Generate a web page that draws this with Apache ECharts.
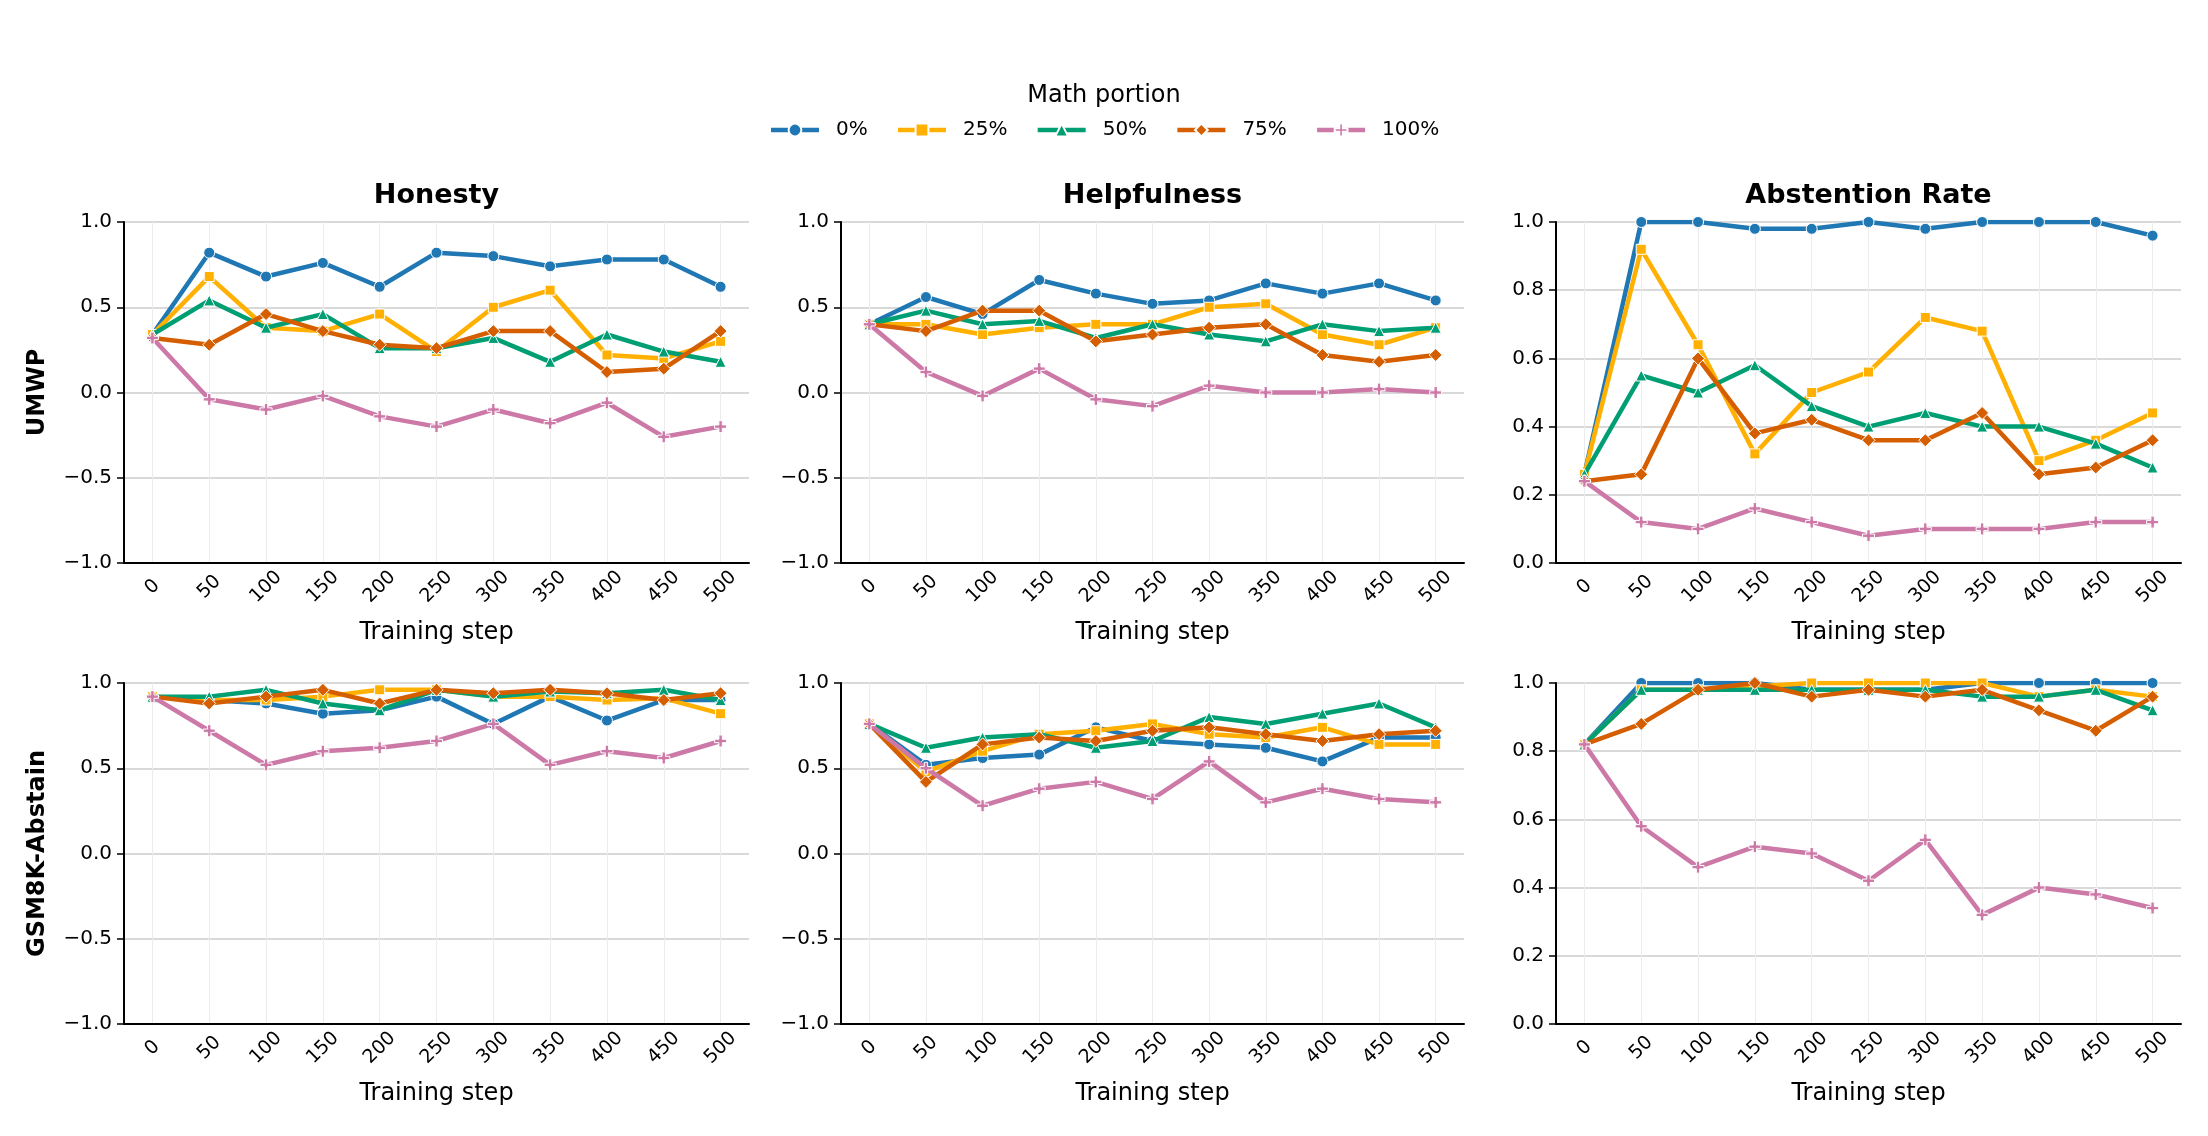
<!DOCTYPE html>
<html>
<head>
<meta charset="utf-8">
<script src="https://cdn.jsdelivr.net/npm/echarts@6/dist/echarts.min.js"></script>
<style>
  html, body { margin: 0; background: #fff; }
  #chart { width: 2208px; height: 1136px; }
</style>
</head>
<body>
<div id="chart"></div>
<script>
const steps = ['0', '50', '100', '150', '200', '250', '300', '350', '400', '450', '500'];
const portions = ['0%', '25%', '50%', '75%', '100%'];
const panelTitles = ['Honesty', 'Helpfulness', 'Abstention Rate'];
const rowNames = ['UMWP', 'GSM8K-Abstain'];

// rows follow portions: 0%, 25%, 50%, 75%, 100%
const umwpHonesty = [
  [0.34, 0.82, 0.68, 0.76, 0.62, 0.82, 0.80, 0.74, 0.78, 0.78, 0.62],
  [0.34, 0.68, 0.38, 0.36, 0.46, 0.24, 0.50, 0.60, 0.22, 0.20, 0.30],
  [0.34, 0.54, 0.38, 0.46, 0.26, 0.26, 0.32, 0.18, 0.34, 0.24, 0.18],
  [0.32, 0.28, 0.46, 0.36, 0.28, 0.26, 0.36, 0.36, 0.12, 0.14, 0.36],
  [0.32, -0.04, -0.10, -0.02, -0.14, -0.20, -0.10, -0.18, -0.06, -0.26, -0.20]
];
const umwpHelpful = [
  [0.40, 0.56, 0.46, 0.66, 0.58, 0.52, 0.54, 0.64, 0.58, 0.64, 0.54],
  [0.40, 0.40, 0.34, 0.38, 0.40, 0.40, 0.50, 0.52, 0.34, 0.28, 0.38],
  [0.40, 0.48, 0.40, 0.42, 0.32, 0.40, 0.34, 0.30, 0.40, 0.36, 0.38],
  [0.40, 0.36, 0.48, 0.48, 0.30, 0.34, 0.38, 0.40, 0.22, 0.18, 0.22],
  [0.40, 0.12, -0.02, 0.14, -0.04, -0.08, 0.04, 0.00, 0.00, 0.02, 0.00]
];
const umwpAbstain = [
  [0.26, 1.00, 1.00, 0.98, 0.98, 1.00, 0.98, 1.00, 1.00, 1.00, 0.96],
  [0.26, 0.92, 0.64, 0.32, 0.50, 0.56, 0.72, 0.68, 0.30, 0.36, 0.44],
  [0.26, 0.55, 0.50, 0.58, 0.46, 0.40, 0.44, 0.40, 0.40, 0.35, 0.28],
  [0.24, 0.26, 0.60, 0.38, 0.42, 0.36, 0.36, 0.44, 0.26, 0.28, 0.36],
  [0.24, 0.12, 0.10, 0.16, 0.12, 0.08, 0.10, 0.10, 0.10, 0.12, 0.12]
];
const gsmHonesty = [
  [0.92, 0.90, 0.88, 0.82, 0.84, 0.92, 0.76, 0.92, 0.78, 0.90, 0.90],
  [0.92, 0.90, 0.90, 0.92, 0.96, 0.96, 0.92, 0.92, 0.90, 0.91, 0.82],
  [0.92, 0.92, 0.96, 0.88, 0.84, 0.96, 0.92, 0.95, 0.94, 0.96, 0.90],
  [0.92, 0.88, 0.92, 0.96, 0.88, 0.96, 0.94, 0.96, 0.94, 0.90, 0.94],
  [0.92, 0.72, 0.52, 0.60, 0.62, 0.66, 0.76, 0.52, 0.60, 0.56, 0.66]
];
const gsmHelpful = [
  [0.76, 0.52, 0.56, 0.58, 0.74, 0.66, 0.64, 0.62, 0.54, 0.68, 0.68],
  [0.76, 0.48, 0.60, 0.70, 0.72, 0.76, 0.70, 0.68, 0.74, 0.64, 0.64],
  [0.76, 0.62, 0.68, 0.70, 0.62, 0.66, 0.80, 0.76, 0.82, 0.88, 0.74],
  [0.76, 0.42, 0.64, 0.68, 0.66, 0.72, 0.74, 0.70, 0.66, 0.70, 0.72],
  [0.76, 0.50, 0.28, 0.38, 0.42, 0.32, 0.54, 0.30, 0.38, 0.32, 0.30]
];
const gsmAbstain = [
  [0.82, 1.00, 1.00, 1.00, 0.98, 0.98, 0.98, 1.00, 1.00, 1.00, 1.00],
  [0.82, 0.98, 0.98, 0.99, 1.00, 1.00, 1.00, 1.00, 0.96, 0.98, 0.96],
  [0.82, 0.98, 0.98, 0.98, 0.98, 0.98, 0.98, 0.96, 0.96, 0.98, 0.92],
  [0.82, 0.88, 0.98, 1.00, 0.96, 0.98, 0.96, 0.98, 0.92, 0.86, 0.96],
  [0.82, 0.58, 0.46, 0.52, 0.50, 0.42, 0.54, 0.32, 0.40, 0.38, 0.34]
];

const panels = [
  [umwpHonesty, umwpHelpful, umwpAbstain],
  [gsmHonesty, gsmHelpful, gsmAbstain]
];

const colors = ['#1f77b4', '#ffb000', '#009e73', '#d55e00', '#cc79a7'];
const plusPath = 'path://M3.6,0 H6.4 V3.6 H10 V6.4 H6.4 V10 H3.6 V6.4 H0 V3.6 H3.6 Z';
const symbols = ['circle', 'rect', 'triangle', 'diamond', plusPath];
const symbolSizes = [11, 10, 11, 13, 12];

const lefts = [124, 841, 1556];
const widths = [625, 623, 625];
const tops = [222, 683];
const gridHeight = 341;

const chart = echarts.init(document.getElementById('chart'));

const grid = [];
const xAxis = [];
const yAxis = [];
const series = [];
const title = [];

function fmt(v) {
  const s = v.toFixed(1);
  return s.startsWith('-') ? '\u2212' + s.slice(1) : s;
}

title.push({
  text: 'Math portion',
  left: 'center',
  top: 84,
  padding: 0,
  textStyle: { fontFamily: 'DejaVu Sans', fontSize: 24, fontWeight: 'normal', color: '#000' }
});

panelTitles.forEach((t, c) => {
  title.push({
    text: t,
    left: lefts[c] + widths[c] / 2,
    top: 182,
    padding: 0,
    textAlign: 'center',
    textStyle: { fontFamily: 'DejaVu Sans', fontSize: 27, fontWeight: 'bold', color: '#000' }
  });
});

for (let r = 0; r < 2; r++) {
  for (let c = 0; c < 3; c++) {
    const idx = r * 3 + c;
    grid.push({ left: lefts[c], top: tops[r], width: widths[c], height: gridHeight });
    xAxis.push({
      type: 'category',
      gridIndex: idx,
      data: steps,
      boundaryGap: true,
      name: 'Training step',
      nameLocation: 'middle',
      nameGap: 58,
      nameTextStyle: { fontFamily: 'DejaVu Sans', fontSize: 24, color: '#000' },
      axisLine: { onZero: false, lineStyle: { color: '#000', width: 2 } },
      axisTick: { alignWithLabel: true, length: 7, lineStyle: { color: '#000', width: 1.5 } },
      axisLabel: {
        interval: 0,
        rotate: 45,
        align: 'center',
        verticalAlign: 'middle',
        margin: 24,
        fontFamily: 'DejaVu Sans',
        fontSize: 19,
        color: '#000'
      },
      splitLine: { show: true, interval: 0, alignWithLabel: true, lineStyle: { color: '#ececec', width: 1 } }
    });
    const isRate = c === 2;
    yAxis.push({
      type: 'value',
      gridIndex: idx,
      min: isRate ? 0 : -1,
      max: 1,
      interval: isRate ? 0.2 : 0.5,
      name: c === 0 ? rowNames[r] : '',
      nameLocation: 'middle',
      nameGap: 74,
      nameTextStyle: { fontFamily: 'DejaVu Sans', fontSize: 24, fontWeight: 'bold', color: '#000' },
      axisLine: { show: true, onZero: false, lineStyle: { color: '#000', width: 2 } },
      axisTick: { show: true, length: 7, lineStyle: { color: '#000', width: 1.5 } },
      axisLabel: {
        margin: 12,
        fontFamily: 'DejaVu Sans',
        fontSize: 20,
        color: '#000',
        formatter: fmt
      },
      splitLine: { show: true, lineStyle: { color: '#d9d9d9', width: 2 } }
    });
    panels[r][c].forEach((vals, s) => {
      series.push({
        name: portions[s],
        type: 'line',
        xAxisIndex: idx,
        yAxisIndex: idx,
        data: vals,
        symbol: symbols[s],
        symbolSize: symbolSizes[s],
        showAllSymbol: true,
        z: 2 + s,
        lineStyle: { color: colors[s], width: 4.5 },
        itemStyle: { color: colors[s], borderColor: '#fff', borderWidth: 1 },
        emphasis: { disabled: true },
        animation: false
      });
    });
  }
}

chart.setOption({
  backgroundColor: '#fff',
  animation: false,
  title: title,
  legend: {
    data: portions,
    left: 'center',
    top: 120,
    padding: 0,
    itemWidth: 48,
    itemHeight: 16,
    itemGap: 28,
    lineStyle: { width: 4.5 },
    textStyle: { fontFamily: 'DejaVu Sans', fontSize: 20, color: '#000', padding: [0, 0, 0, 12] }
  },
  grid: grid,
  xAxis: xAxis,
  yAxis: yAxis,
  series: series
});

window.addEventListener('resize', () => chart.resize());
</script>
</body>
</html>
